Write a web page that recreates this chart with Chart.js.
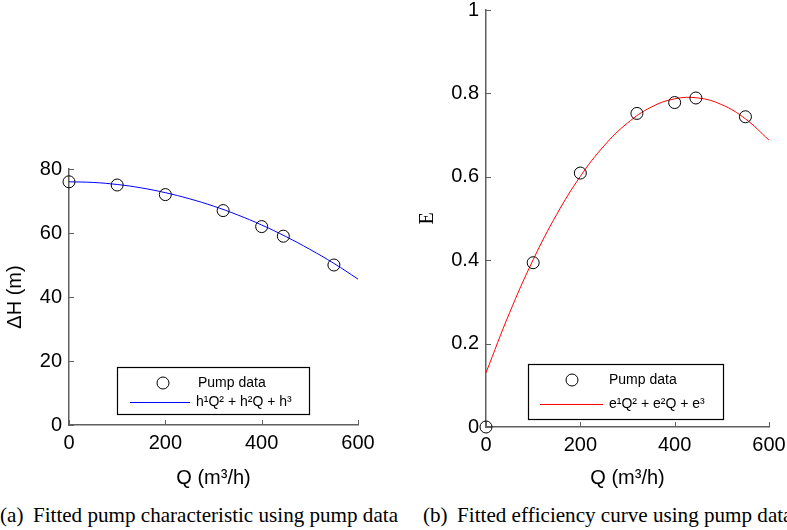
<!DOCTYPE html>
<html><head><meta charset="utf-8">
<script src="https://cdn.jsdelivr.net/npm/chart.js@4/dist/chart.umd.min.js"></script>
<style>
html,body{margin:0;padding:0;background:#fff;width:787px;height:530px;overflow:hidden;position:relative}
canvas{position:absolute;top:0}
#c1{left:0}
#c2{left:395px}
.cap{position:absolute;top:505px;font-family:"Liberation Serif","Times New Roman",serif;font-size:21px;line-height:1;white-space:nowrap;transform-origin:0 0;color:#000}
#capA{left:0}
#capB{left:423px}
</style></head><body>
<canvas id="c1" width="395" height="490"></canvas>
<canvas id="c2" width="392" height="490"></canvas>
<div class="cap" id="capA">(a) &thinsp;Fitted pump characteristic using pump data</div>
<div class="cap" id="capB">(b) &thinsp;Fitted efficiency curve using pump data</div>
<script>
// ---- data ----
const flowQ = [0, 100, 200, 320, 400, 445, 550];
const headData = [76, 75, 72, 67, 62, 59, 50];
const effData = [0, 0.394, 0.609, 0.752, 0.778, 0.789, 0.744];
const fitQ = [0, 50, 100, 150, 200, 250, 300, 350, 400, 450, 500, 550, 600];
const headFit = [76, 75.8, 75.16, 74.1, 72.6, 70.7, 68.4, 65.66, 62.5, 58.9, 54.9, 50.5, 45.6];
const effFit = [0.13, 0.274, 0.401, 0.510, 0.601, 0.674, 0.729, 0.767, 0.787, 0.789, 0.773, 0.739, 0.688];
const qTicks = [0, 200, 400, 600];
const headTicks = [0, 20, 40, 60, 80];
const effTicks = [0, 0.2, 0.4, 0.6, 0.8, 1];
const labelsLeft = ['Pump data', 'h\u00B9Q\u00B2 + h\u00B2Q + h\u00B3'];
const labelsRight = ['Pump data', 'e\u00B9Q\u00B2 + e\u00B2Q + e\u00B3'];

Chart.defaults.font.family = '"Liberation Sans", Arial, Helvetica, sans-serif';
Chart.defaults.color = '#000';

const AXIS = '#606060';
const sansFont = {family: '"Liberation Sans", Arial, sans-serif', size: 20};
const serifFont = {family: '"Liberation Serif", "Times New Roman", serif', size: 20};

const inwardTicks = {
  id: 'inwardTicks',
  afterDatasetsDraw(chart) {
    const {ctx, chartArea: a, scales: {x, y}} = chart;
    ctx.save();
    ctx.strokeStyle = AXIS; ctx.lineWidth = 1;
    x.ticks.forEach(t => {
      const px = Math.round(x.getPixelForValue(t.value)) + 0.5;
      ctx.beginPath(); ctx.moveTo(px, a.bottom); ctx.lineTo(px, a.bottom - 5); ctx.stroke();
    });
    y.ticks.forEach(t => {
      const py = Math.round(y.getPixelForValue(t.value)) + 0.5;
      ctx.beginPath(); ctx.moveTo(a.left, py); ctx.lineTo(a.left + 5, py); ctx.stroke();
    });
    ctx.restore();
  }
};

const boxLegend = {
  id: 'boxLegend',
  afterDraw(chart, args, o) {
    const ctx = chart.ctx, ds = chart.data.datasets;
    ctx.save();
    ctx.fillStyle = '#fff';
    ctx.fillRect(o.x, o.y, o.w, o.h);
    ctx.strokeStyle = '#000'; ctx.lineWidth = 1.2;
    ctx.strokeRect(o.x + 0.5, o.y + 0.5, o.w, o.h);
    ctx.lineWidth = 1;
    ctx.beginPath(); ctx.arc(o.mx, o.r1, 6, 0, Math.PI * 2);
    ctx.strokeStyle = ds[0].borderColor; ctx.stroke();
    ctx.beginPath(); ctx.moveTo(o.lx1, o.r2 + 0.5); ctx.lineTo(o.lx2, o.r2 + 0.5);
    ctx.strokeStyle = ds[1].borderColor; ctx.stroke();
    ctx.fillStyle = '#000';
    ctx.font = '14px "Liberation Sans", Arial, sans-serif';
    ctx.textBaseline = 'middle'; ctx.textAlign = 'left';
    ctx.fillText(ds[0].label, o.tx1, o.r1);
    ctx.fillText(ds[1].label, o.tx2, o.r2);
    ctx.restore();
  }
};

function makeChart(id, pts, fit, labels, color, yTicks, yMax, yTitle, yFont, yTitlePad, area, legend, canvasW) {
  return new Chart(document.getElementById(id), {
    type: 'scatter',
    data: {
      datasets: [
        {label: labels[0], data: flowQ.map((q, i) => ({x: q, y: pts[i]})), showLine: false,
         pointStyle: 'circle', pointRadius: 6, pointBorderWidth: 1, borderColor: '#000',
         backgroundColor: 'rgba(0,0,0,0)', pointBackgroundColor: 'rgba(0,0,0,0)', clip: false, order: 0},
        {label: labels[1], data: fitQ.map((q, i) => ({x: q, y: fit[i]})), showLine: true,
         borderColor: color, borderWidth: 1, pointRadius: 0, tension: 0.4, fill: false, order: 1}
      ]
    },
    options: {
      responsive: false, animation: false,
      layout: {padding: {left: 0, top: area.top, right: canvasW - area.right, bottom: 0}},
      plugins: {legend: {display: false}, tooltip: {enabled: false}, boxLegend: legend},
      scales: {
        x: {
          type: 'linear', min: 0, max: 600,
          afterBuildTicks: s => { s.ticks = qTicks.map(v => ({value: v})); },
          afterFit: s => { s.height = 490 - area.bottom; s.paddingLeft = 0; s.paddingRight = 0; },
          grid: {display: true, drawOnChartArea: false, drawTicks: false},
          border: {display: true, color: AXIS, width: 1.5},
          ticks: {padding: 6, font: sansFont, color: '#000', maxRotation: 0},
          title: {display: true, text: 'Q (m\u00B3/h)', font: sansFont, color: '#000', padding: {top: 0, bottom: 0}}
        },
        y: {
          type: 'linear', min: 0, max: yMax,
          afterBuildTicks: s => { s.ticks = yTicks.map(v => ({value: v})); },
          afterFit: s => { s.width = area.left; s.paddingTop = 0; s.paddingBottom = 0; },
          grid: {display: true, drawOnChartArea: false, drawTicks: false},
          border: {display: true, color: AXIS, width: 1.5},
          ticks: {padding: 7, font: sansFont, color: '#000', callback: v => String(+v.toFixed(2))},
          title: {display: true, text: yTitle, font: yFont, color: '#000', padding: {top: yTitlePad, bottom: 0}}
        }
      }
    },
    plugins: [inwardTicks, boxLegend]
  });
}

makeChart('c1', headData, headFit, labelsLeft, '#0000ff', headTicks, 80, '\u0394H (m)', sansFont, 3,
  {left: 69, right: 358, top: 169, bottom: 425},
  {x: 117, y: 367, w: 192, h: 47, mx: 163, r1: 383, tx1: 198, lx1: 130, lx2: 190, r2: 402, tx2: 196}, 395);

makeChart('c2', effData, effFit, labelsRight, '#ff0000', effTicks, 1, 'E', serifFont, 21,
  {left: 91, right: 374, top: 10, bottom: 427},
  {x: 133, y: 364, w: 195, h: 55, mx: 177, r1: 380, tx1: 214, lx1: 145, lx2: 208, r2: 404, tx2: 214}, 392);

// fit captions horizontally (Times-like condensed look)
const capA = document.getElementById('capA'), capB = document.getElementById('capB');
const s = 398 / capA.getBoundingClientRect().width;
capA.style.transform = 'scaleX(' + s + ')';
capB.style.transform = 'scaleX(' + s + ')';
</script>
</body></html>
